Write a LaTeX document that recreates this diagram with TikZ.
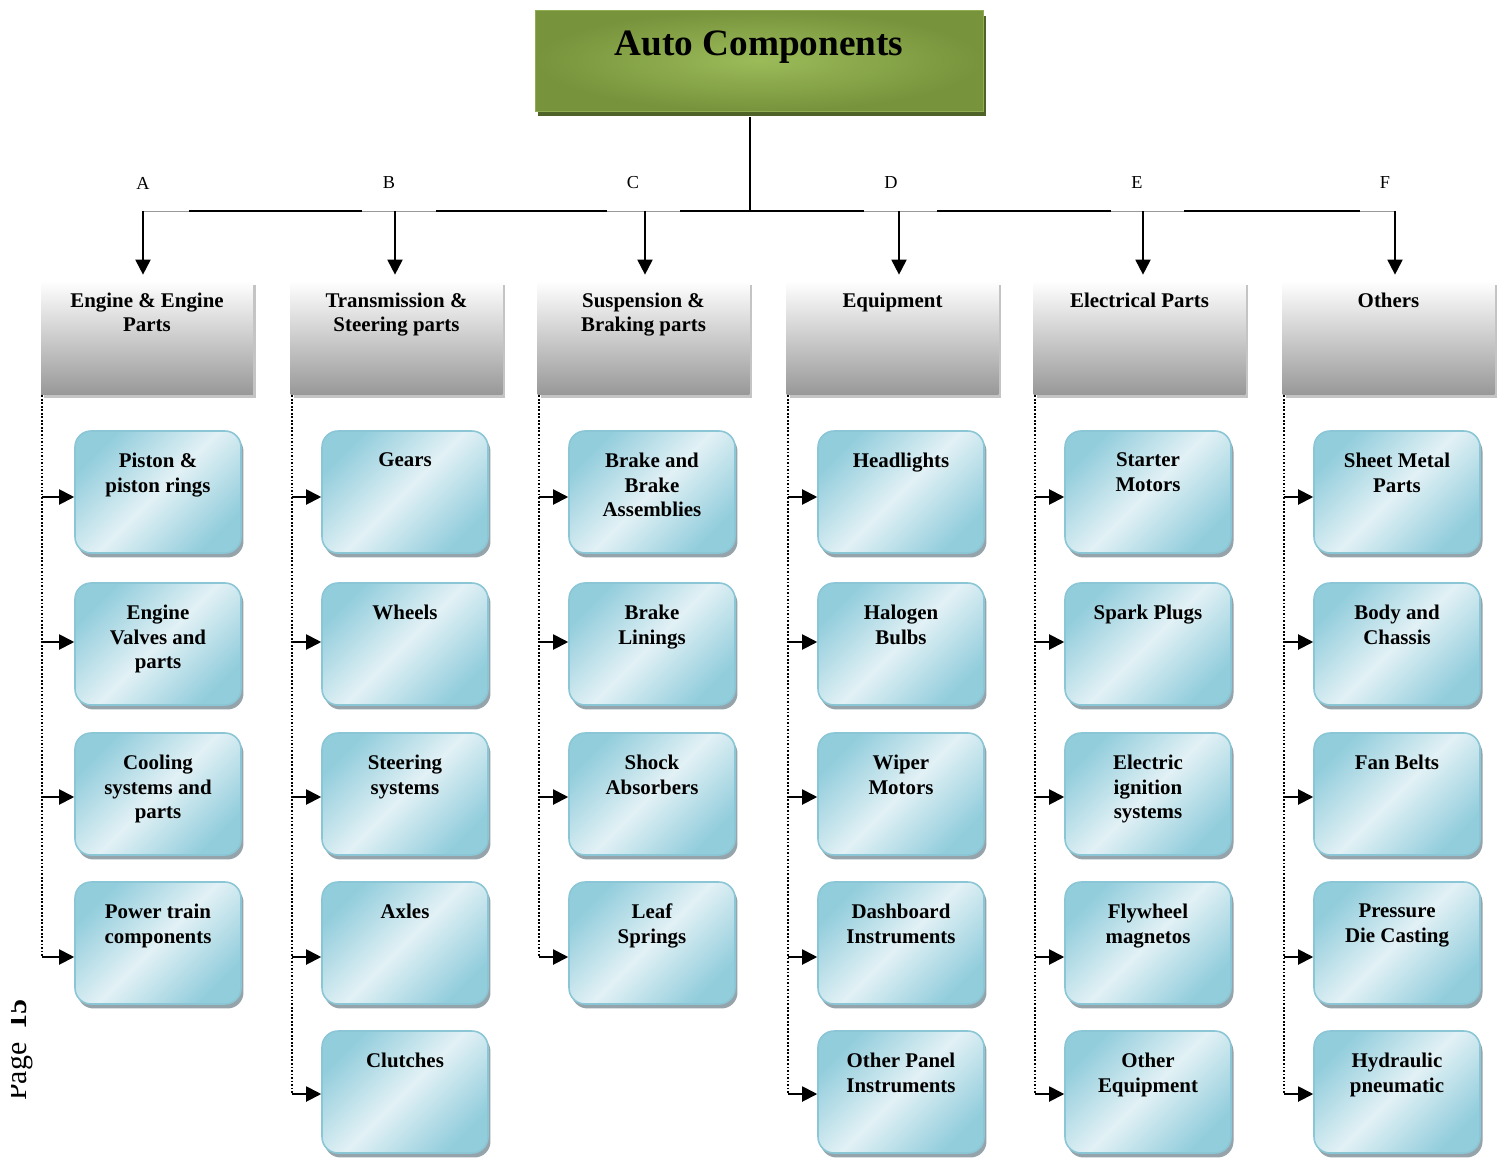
\documentclass[tikz,border=0pt]{standalone}
\usepackage{fontspec}
\setmainfont{Liberation Serif}
\usetikzlibrary{arrows.meta,calc,shadows}
\definecolor{olivedark}{HTML}{77933C}
\definecolor{olivelight}{HTML}{9BBB59}
\definecolor{oliveshadow}{HTML}{4F6228}
\definecolor{oliveborder}{HTML}{8FAE52}
\definecolor{leafdark}{HTML}{92CDDC}
\definecolor{leaflight}{HTML}{E2F1F5}
\definecolor{leafborder}{HTML}{8AC6D5}
\definecolor{leafshadow}{HTML}{95A4AA}
\definecolor{headgray}{HTML}{989898}
\definecolor{headshadow}{HTML}{C4C4C4}
\newcommand{\leafbox}[4]{%
  \node[leaf] (#1) at (#2,#3) {};
  \node[ltext] (#1t) at ([yshift=-0.44cm]#1.north) {#4};}
\newcommand{\headbox}[3]{%
  \node[headbox] (#1) at (#2,338) {};
  \node[htext] (#1t) at ([yshift=-0.23cm]#1.north) {#3};}
\begin{document}
\begin{tikzpicture}[x=0.02cm,y=-0.02cm,
  titlebox/.style={minimum width=8.96cm, minimum height=2.02cm, inner sep=0pt,
    text height=0.92cm, text depth=1.1cm,
    draw=oliveborder, line width=0.4pt,
    inner color=olivelight, outer color=olivedark,
    drop shadow={shadow xshift=0.06cm, shadow yshift=-0.11cm, fill=oliveshadow, opacity=1},
    font=\fontsize{21.2}{24}\selectfont\bfseries},
  headbox/.style={minimum width=4.24cm, minimum height=2.28cm, inner sep=0pt,
    top color=white, bottom color=headgray,
    drop shadow={shadow xshift=0.06cm, shadow yshift=-0.07cm, fill=headshadow, opacity=1}},
  htext/.style={anchor=north, align=center, inner sep=0pt,
    font=\fontsize{11.9}{14.2}\selectfont\bfseries},
  leaf/.style={minimum width=3.32cm, minimum height=2.44cm, inner sep=0pt,
    draw=leafborder, line width=0.9pt, rounded corners=0.32cm,
    top color=leafdark, bottom color=leafdark, middle color=leaflight, shading angle=45,
    drop shadow={shadow xshift=0.05cm, shadow yshift=-0.09cm, fill=leafshadow, opacity=1}},
  ltext/.style={anchor=north, align=center, inner sep=0pt,
    font=\fontsize{11.9}{14.2}\selectfont\bfseries},
  letter/.style={inner sep=0pt, font=\fontsize{10.4}{12}\selectfont},
  busthin/.style={draw=gray!80, line width=0.5pt},
  busthick/.style={draw=black, line width=1.2pt},
  downarrow/.style={draw=black, line width=1.1pt, shorten >=0.12cm,
    -{Triangle[length=0.3cm,width=0.3cm]}},
  dotline/.style={draw=black, line width=1pt, densely dotted},
  larrow/.style={draw=black, line width=1.1pt,
    -{Triangle[length=0.3cm,width=0.3cm]}}
]
\useasboundingbox (0,0) rectangle (1504,1162);
\fill[white] (0,0) rectangle (1504,1162);

% title
\node[titlebox] (title) at (759,60.5) {Auto Components};

% bus coordinates
\coordinate (J) at (750,211);
\coordinate (bA) at (143,211);
\coordinate (bB) at (395,211);
\coordinate (bC) at (645,211);
\coordinate (bD) at (899,211);
\coordinate (bE) at (1143,211);
\coordinate (bF) at (1395,211);

\draw[busthick] ([yshift=-0.12cm]J |- title.south) -- (J);
\draw[busthin] (bA) -- (bF);
\draw[busthick] (189,211) -- (362,211);
\draw[busthick] (436,211) -- (607,211);
\draw[busthick] (680,211) -- (864,211);
\draw[busthick] (937,211) -- (1111,211);
\draw[busthick] (1184,211) -- (1360,211);

% letters
\node[letter] (lA) at (143,183) {A};
\node[letter] (lB) at (389,183) {B};
\node[letter] (lC) at (633,183) {C};
\node[letter] (lD) at (891,183) {D};
\node[letter] (lE) at (1137,183) {E};
\node[letter] (lF) at (1385,183) {F};

% headers
\headbox{hA}{147}{Engine \& Engine\\Parts}
\headbox{hB}{396.5}{Transmission \&\\Steering parts}
\headbox{hC}{643.5}{Suspension \&\\Braking parts}
\headbox{hD}{892.5}{Equipment}
\headbox{hE}{1139.5}{Electrical Parts}
\headbox{hF}{1388.5}{Others}

\foreach \c in {A,B,C,D,E,F}{
  \draw[downarrow] (b\c) -- (b\c |- h\c.north);
}

% leaves
\leafbox{A1}{158}{492}{Piston \&\\piston rings}
\leafbox{A2}{158}{644}{Engine\\Valves and\\parts}
\leafbox{A3}{158}{794}{Cooling\\systems and\\parts}
\leafbox{A4}{158}{943}{Power train\\components}

\leafbox{B1}{405}{492}{Gears}
\leafbox{B2}{405}{644}{Wheels}
\leafbox{B3}{405}{794}{Steering\\systems}
\leafbox{B4}{405}{943}{Axles}
\leafbox{B5}{405}{1092}{Clutches}

\leafbox{C1}{652}{492}{Brake and\\Brake\\Assemblies}
\leafbox{C2}{652}{644}{Brake\\Linings}
\leafbox{C3}{652}{794}{Shock\\Absorbers}
\leafbox{C4}{652}{943}{Leaf\\Springs}

\leafbox{D1}{901}{492}{Headlights}
\leafbox{D2}{901}{644}{Halogen\\Bulbs}
\leafbox{D3}{901}{794}{Wiper\\Motors}
\leafbox{D4}{901}{943}{Dashboard\\Instruments}
\leafbox{D5}{901}{1092}{Other Panel\\Instruments}

\leafbox{E1}{1148}{492}{Starter\\Motors}
\leafbox{E2}{1148}{644}{Spark Plugs}
\leafbox{E3}{1148}{794}{Electric\\ignition\\systems}
\leafbox{E4}{1148}{943}{Flywheel\\magnetos}
\leafbox{E5}{1148}{1092}{Other\\Equipment}

\leafbox{F1}{1397}{492}{Sheet Metal\\Parts}
\leafbox{F2}{1397}{644}{Body and\\Chassis}
\leafbox{F3}{1397}{794}{Fan Belts}
\leafbox{F4}{1397}{943}{Pressure\\Die Casting}
\leafbox{F5}{1397}{1092}{Hydraulic\\pneumatic}

% dotted spines and arrows
\foreach \c/\n in {A/4,B/5,C/4,D/5,E/5,F/5}{
  \coordinate (d\c) at ($(h\c.south west)+(1.5,0)$);
  \coordinate (d\c1) at (d\c |- 0,497);
  \coordinate (d\c2) at (d\c |- 0,642);
  \coordinate (d\c3) at (d\c |- 0,797);
  \coordinate (d\c4) at (d\c |- 0,957);
  \coordinate (d\c5) at (d\c |- 0,1094);
  \draw[dotline] (d\c) -- (d\c\n);
  \foreach \r in {1,...,\n}{
    \draw[larrow] (d\c\r) -- (d\c\r -| \c\r.west);
  }
}

% page footer (rotated, clipped at the page edge as in the scan)
\begin{scope}
  \clip (11,960) rectangle (60,1110);
  \node[rotate=90, anchor=base west, inner sep=0pt,
    font=\fontsize{17}{20}\selectfont] (pg) at (27,1101) {Page\hspace{0.45em}\textbf{15}};
\end{scope}
\end{tikzpicture}
\end{document}
